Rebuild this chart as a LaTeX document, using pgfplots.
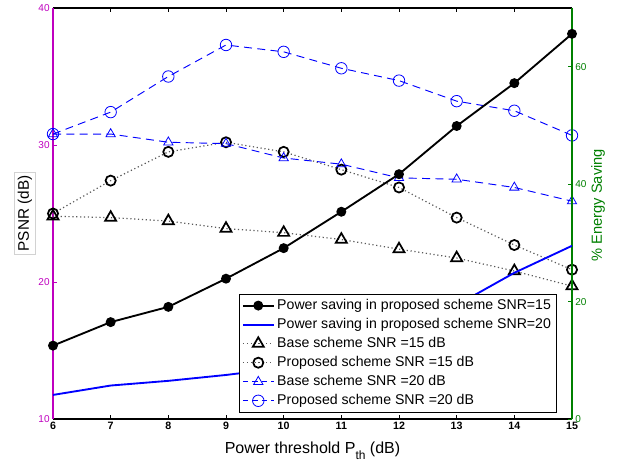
\documentclass[border=0pt]{standalone}
\usepackage{pgfplots}
\pgfplotsset{compat=1.18}
\usepackage{fontspec}
\setmainfont{Liberation Sans}

\definecolor{mag}{rgb}{0.75,0,0.75}
\definecolor{grn}{rgb}{0,0.5,0}
\definecolor{mblue}{rgb}{0,0,1}

\pgfplotsset{
  common/.style={width=389.25pt, height=308.25pt, scale only axis,
    xmin=6, xmax=15,
    /pgf/number format/assume math mode=true,
    major tick length=3pt},
  legend image code/.code={\draw[mark repeat=2,mark phase=2,#1]
    plot coordinates {(0pt,0pt) (11.5pt,0pt) (23pt,0pt)};},
}

\begin{document}
\begin{tikzpicture}
% left axis: PSNR
\begin{axis}[common,
  ymin=10, ymax=40,
  xtick={6,...,15}, ytick={10,20,30,40},
  axis x line*=box, axis y line*=left,
  xtick align=inside, ytick align=inside,
  x axis line style={black, line width=0.8pt},
  y axis line style={mag, line width=0.8pt},
  xtick style={black, line width=0.6pt},
  ytick style={mag, line width=0.6pt},
  x tick label style={font=\fontsize{8}{9}\selectfont\bfseries, black, yshift=1pt},
  y tick label style={font=\fontsize{7.5}{9}\selectfont, mag, xshift=1pt},
  xlabel={Power threshold P\raisebox{-4.5pt}{\fontsize{9}{9}\selectfont th} (dB)},
  xlabel style={at={(axis description cs:0.5,0)}, anchor=north, yshift=-14pt,
    font=\fontsize{12}{14}\selectfont},
  ylabel={PSNR (dB)},
  ylabel style={at={(axis description cs:-0.054,0.5)}, anchor=center,
    draw=gray!35, fill=white, inner sep=2.5pt, font=\fontsize{11.5}{13}\selectfont},
]
\coordinate (sw) at (rel axis cs:0,0);
\coordinate (ne) at (rel axis cs:1,1);
% Base scheme SNR=15
\addplot[black!65, dotted, line width=0.9pt, mark=triangle,
  mark size=4.8pt, mark options={solid, black, line width=1.3pt}]
  coordinates {(6,24.8)(7,24.7)(8,24.45)(9,23.9)(10,23.6)(11,23.1)(12,22.4)(13,21.75)(14,20.8)(15,19.7)};
% Proposed scheme SNR=15
\addplot[black!65, dotted, line width=0.9pt, mark=o,
  mark size=3.8pt, mark options={solid, black, line width=1.3pt}]
  coordinates {(6,25.0)(7,27.4)(8,29.5)(9,30.2)(10,29.5)(11,28.2)(12,26.9)(13,24.7)(14,22.7)(15,20.9)};
% Base scheme SNR=20
\addplot[mblue, dash pattern=on 6pt off 4pt, line width=0.7pt, mark=triangle,
  mark size=4pt, mark options={solid, line width=0.6pt}]
  coordinates {(6,30.8)(7,30.8)(8,30.2)(9,30.1)(10,29.05)(11,28.6)(12,27.6)(13,27.5)(14,26.9)(15,25.9)};
% Proposed scheme SNR=20
\addplot[mblue, dash pattern=on 6pt off 4pt, line width=0.7pt, mark=o,
  mark size=4.3pt, mark options={solid, line width=0.6pt}]
  coordinates {(6,30.8)(7,32.4)(8,35.0)(9,37.3)(10,36.8)(11,35.6)(12,34.7)(13,33.2)(14,32.5)(15,30.7)};
\end{axis}

% right axis: energy saving
\begin{axis}[common,
  ymin=0, ymax=70, ytick={0,20,40,60},
  axis x line=none, axis y line*=right,
  ytick align=inside,
  y axis line style={grn, line width=0.8pt},
  ytick style={grn, line width=0.6pt},
  y tick label style={font=\fontsize{7.5}{9}\selectfont, grn, xshift=-1pt},
  ylabel={\% Energy Saving},
  ylabel style={at={(axis description cs:1.05,0.52)}, anchor=center,
    grn, font=\fontsize{11}{13}\selectfont},
  legend style={at={(axis description cs:0.971,0.015)}, anchor=south east,
    font=\fontsize{10.6}{12.5}\selectfont, draw=black, line width=0.9pt,
    fill=white, inner sep=2pt, row sep=1.1pt,
    cells={anchor=west}},
]
\addplot[black, line width=1.4pt, mark=*, mark size=3pt]
  coordinates {(6,12.5)(7,16.5)(8,19.1)(9,23.9)(10,29.1)(11,35.3)(12,41.7)(13,49.9)(14,57.2)(15,65.6)};
\addlegendentry{Power saving in proposed scheme SNR=15}
\addplot[mblue, line width=1.4pt]
  coordinates {(6,4.1)(7,5.7)(8,6.5)(9,7.5)(10,8.7)(11,10.9)(12,14.3)(13,19.4)(14,24.9)(15,29.5)};
\addlegendentry{Power saving in proposed scheme SNR=20}
\addlegendimage{black!65, dotted, line width=0.9pt, mark=triangle,
  mark size=4.8pt, mark options={solid, black, line width=1.3pt}}
\addlegendentry{Base scheme SNR =15 dB}
\addlegendimage{black!65, dotted, line width=0.9pt, mark=o,
  mark size=3.8pt, mark options={solid, black, line width=1.3pt}}
\addlegendentry{Proposed scheme SNR =15 dB}
\addlegendimage{mblue, dash pattern=on 4pt off 3pt, line width=0.7pt, mark=triangle,
  mark size=4pt, mark options={solid, line width=0.6pt}}
\addlegendentry{Base scheme SNR =20 dB}
\addlegendimage{mblue, dash pattern=on 4pt off 3pt, line width=0.7pt, mark=o,
  mark size=4.3pt, mark options={solid, line width=0.6pt}}
\addlegendentry{Proposed scheme SNR =20 dB}
\end{axis}

\pgfresetboundingbox
\path ([shift={(-39.75pt,-36.75pt)}]sw) rectangle ([shift={(35.25pt,6pt)}]ne);
\end{tikzpicture}
\end{document}
